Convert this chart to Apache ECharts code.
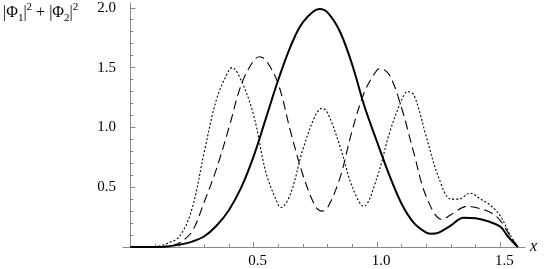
<!DOCTYPE html>
<html>
<head>
<meta charset="utf-8">
<script src="https://cdn.jsdelivr.net/npm/echarts@6/dist/echarts.min.js"></script>
<style>
html,body{margin:0;padding:0;background:#fff;}
#chart{width:545px;height:269px;}
</style>
</head>
<body>
<div id="chart"></div>
<script>
// ---- data ----
const solidX = [0, 0.1, 0.15, 0.2, 0.25, 0.3, 0.35, 0.4, 0.45, 0.5, 0.55, 0.6, 0.65, 0.7, 0.767, 0.8, 0.85, 0.9, 0.95, 1.0, 1.05, 1.1, 1.15, 1.2, 1.22, 1.25, 1.3, 1.35, 1.4, 1.45, 1.5, 1.53, 1.571];
const solidY = [0, 0, 0.005, 0.02, 0.045, 0.09, 0.18, 0.31, 0.50, 0.76, 1.08, 1.40, 1.68, 1.88, 1.99, 1.96, 1.80, 1.52, 1.17, 0.88, 0.60, 0.36, 0.20, 0.12, 0.11, 0.12, 0.18, 0.245, 0.24, 0.215, 0.17, 0.09, 0];

const dashX = [0, 0.1, 0.15, 0.175, 0.2, 0.25, 0.3, 0.35, 0.4, 0.45, 0.5, 0.524, 0.55, 0.6, 0.65, 0.7, 0.75, 0.777, 0.8, 0.85, 0.9, 0.95, 1.0, 1.013, 1.05, 1.1, 1.15, 1.2, 1.263, 1.3, 1.365, 1.4, 1.459, 1.5, 1.54, 1.571];
const dashY = [0, 0, 0.005, 0.015, 0.035, 0.13, 0.38, 0.66, 1.00, 1.36, 1.56, 1.59, 1.56, 1.36, 0.96, 0.60, 0.34, 0.30, 0.33, 0.58, 0.98, 1.30, 1.48, 1.49, 1.44, 1.16, 0.78, 0.42, 0.23, 0.27, 0.34, 0.33, 0.29, 0.22, 0.09, 0];

const dotX = [0, 0.08, 0.12, 0.15, 0.2, 0.25, 0.3, 0.35, 0.4, 0.412, 0.45, 0.5, 0.55, 0.6, 0.611, 0.65, 0.7, 0.75, 0.777, 0.8, 0.85, 0.9, 0.946, 1.0, 1.05, 1.1, 1.124, 1.15, 1.2, 1.25, 1.3, 1.33, 1.378, 1.42, 1.459, 1.5, 1.54, 1.571];
const dotY = [0, 0, 0.01, 0.03, 0.09, 0.32, 0.80, 1.24, 1.48, 1.50, 1.39, 1.10, 0.62, 0.35, 0.33, 0.45, 0.82, 1.10, 1.16, 1.12, 0.84, 0.50, 0.34, 0.58, 0.95, 1.23, 1.30, 1.27, 0.92, 0.58, 0.40, 0.40, 0.45, 0.40, 0.35, 0.26, 0.10, 0];

const xMajorTicks = [0.5, 1.0, 1.5];
const xMinorTicks = [0.1, 0.2, 0.3, 0.4, 0.6, 0.7, 0.8, 0.9, 1.1, 1.2, 1.3, 1.4];
const yMajorTicks = [0.5, 1.0, 1.5, 2.0];
const yMinorTicks = [0.1, 0.2, 0.3, 0.4, 0.6, 0.7, 0.8, 0.9, 1.1, 1.2, 1.3, 1.4, 1.6, 1.7, 1.8, 1.9];

const pairs = (xs, ys) => xs.map((x, i) => [x, ys[i]]);

const AXIS_GRAY = '#8a8a8a';
const FONT = "'Liberation Serif', 'DejaVu Serif', serif";

const chart = echarts.init(document.getElementById('chart'), null, {renderer: 'canvas'});

const xBase = {
  type: 'value', min: -0.03, max: 1.6, gridIndex: 0, position: 'bottom',
  splitLine: {show: false}
};
const yBase = {
  type: 'value', min: 0, max: 2.04, gridIndex: 0, position: 'left',
  splitLine: {show: false}
};

const option = {
  animation: false,
  backgroundColor: '#fff',
  grid: {left: 123, right: 20, top: 3, bottom: 21, containLabel: false},
  xAxis: [
    Object.assign({}, xBase, {
      name: 'x', nameLocation: 'end', nameGap: 5,
      nameTextStyle: {fontFamily: FONT, fontStyle: 'italic', fontSize: 16, color: '#000', verticalAlign: 'middle'},
      axisLine: {show: true, onZero: false, lineStyle: {color: AXIS_GRAY, width: 1}},
      axisTick: {show: true, inside: true, length: 3, customValues: xMinorTicks, lineStyle: {color: AXIS_GRAY, width: 1}},
      axisLabel: {show: false}
    }),
    Object.assign({}, xBase, {
      axisLine: {show: false, onZero: false},
      axisTick: {show: true, inside: true, length: 5, customValues: xMajorTicks, lineStyle: {color: AXIS_GRAY, width: 1}},
      axisLabel: {show: true, customValues: xMajorTicks, margin: 7, fontFamily: FONT, fontSize: 15, color: '#000',
                  padding: [0, 0, 0, 8], formatter: v => v.toFixed(1)}
    })
  ],
  yAxis: [
    Object.assign({}, yBase, {
      axisLine: {show: true, onZero: true, lineStyle: {color: AXIS_GRAY, width: 1}},
      axisTick: {show: true, inside: true, length: 3, customValues: yMinorTicks, lineStyle: {color: AXIS_GRAY, width: 1}},
      axisLabel: {show: false}
    }),
    Object.assign({}, yBase, {
      axisLine: {show: false, onZero: true},
      axisTick: {show: true, inside: true, length: 5, customValues: yMajorTicks, lineStyle: {color: AXIS_GRAY, width: 1}},
      axisLabel: {show: true, customValues: yMajorTicks, margin: 7, fontFamily: FONT, fontSize: 15, color: '#000',
                  formatter: v => v.toFixed(1)}
    })
  ],
  graphic: [{
    type: 'text', left: 3, top: 1, silent: true,
    style: {
      text: '{n||Φ}{sub|1}{n||}{sup|2}{n| + |Φ}{sub|2}{n||}{sup|2}',
      fontSize: 15,
      fontFamily: FONT,
      fill: '#000',
      rich: {
        n: {fontSize: 16, fontFamily: FONT, lineHeight: 24, fill: '#000'},
        sub: {fontSize: 11, fontFamily: FONT, verticalAlign: 'bottom', lineHeight: 11, fill: '#000', padding: [0, 0, 1, 0]},
        sup: {fontSize: 11, fontFamily: FONT, verticalAlign: 'top', lineHeight: 11, fill: '#000', padding: [1, 0, 0, 0]}
      }
    }
  }],
  series: [
    {
      type: 'line', xAxisIndex: 0, yAxisIndex: 0, data: pairs(dotX, dotY),
      showSymbol: false, smooth: 0.35, z: 2,
      lineStyle: {color: '#000', width: 1.1, type: [2, 2]}
    },
    {
      type: 'line', xAxisIndex: 0, yAxisIndex: 0, data: pairs(dashX, dashY),
      showSymbol: false, smooth: 0.35, z: 3,
      lineStyle: {color: '#000', width: 1.1, type: [9, 5]}
    },
    {
      type: 'line', xAxisIndex: 0, yAxisIndex: 0, data: pairs(solidX, solidY),
      showSymbol: false, smooth: 0.35, z: 4,
      lineStyle: {color: '#000', width: 2}
    }
  ]
};
chart.setOption(option);
</script>
</body>
</html>
